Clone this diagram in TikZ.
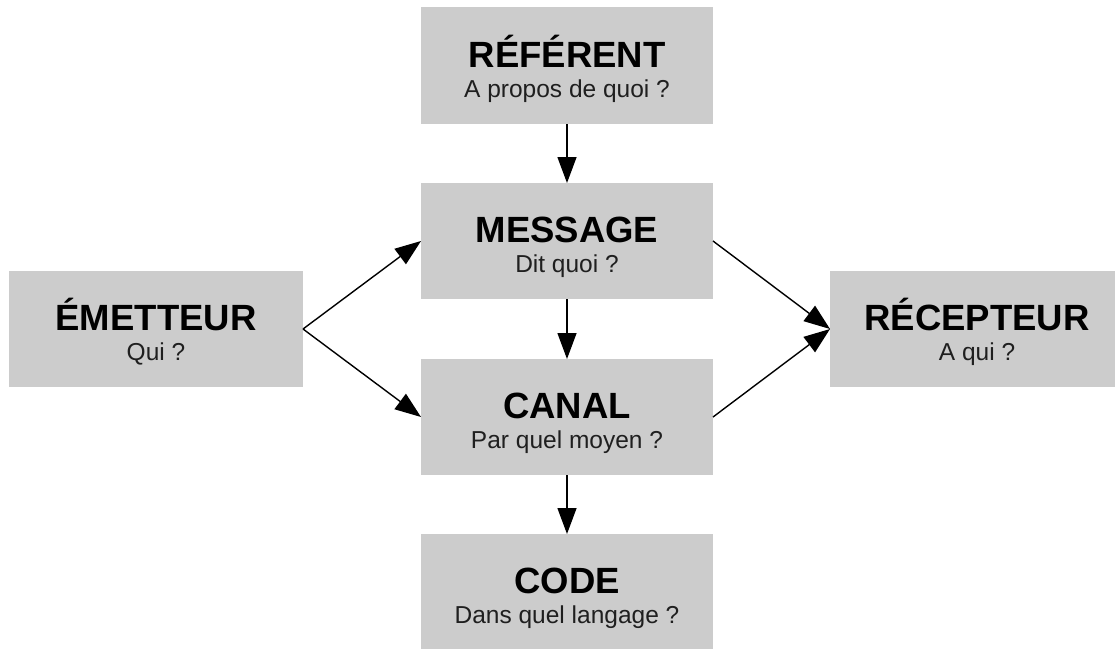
\documentclass[tikz,border=0pt]{standalone}
\usepackage{fontspec}
\setmainfont{Liberation Sans}
\usetikzlibrary{arrows.meta}
\definecolor{boxgray}{RGB}{204,204,204}
\begin{document}
\begin{tikzpicture}[x=1pt,y=-1pt,
  box/.style={fill=boxgray, draw=none, minimum width=293pt, minimum height=116pt, inner sep=0pt, outer sep=0pt},
  ttl/.style={anchor=base, inner sep=0pt, font=\fontsize{36.5}{40}\selectfont\bfseries},
  sub/.style={anchor=base, inner sep=0pt, font=\fontsize{24.5}{27}\selectfont, text=black!88},
  arr/.style={line width=1.4pt, -{Triangle[length=26pt,width=19pt]}}]
\clip (0,0) rectangle (1115,648);
\fill[white] (0,0) rectangle (1115,648);
% boxes
\node[box, minimum width=292pt, minimum height=117pt] (ref) at (567,65.5) {};
\node[box, minimum width=292pt] (msg) at (567,241) {};
\node[box, minimum width=292pt] (can) at (567,417) {};
\node[box, minimum width=292pt] (cod) at (567,592) {};
\node[box, minimum width=294pt] (emi) at (156,329) {};
\node[box, minimum width=294pt] (rec) at (977,329) {};
% texts
\node[ttl] (refT) at (567,67) {RÉFÉRENT};
\node[sub] (refS) at (567,97) {A propos de quoi ?};
\node[ttl] (msgT) at (567,242.5) {MESSAGE};
\node[sub] (msgS) at (567,272.5) {Dit quoi ?};
\node[ttl] (canT) at (567,418.5) {CANAL};
\node[sub] (canS) at (567,448.5) {Par quel moyen ?};
\node[ttl] (codT) at (567,593.5) {CODE};
\node[sub] (codS) at (567,623.5) {Dans quel langage ?};
\node[ttl] (emiT) at (156,330.5) {ÉMETTEUR};
\node[sub] (emiS) at (156,360.5) {Qui ?};
\node[ttl] (recT) at (977,330.5) {RÉCEPTEUR};
\node[sub] (recS) at (977,360.5) {A qui ?};
% arrows
\draw[arr] (ref.south) -- (msg.north);
\draw[arr] (msg.south) -- (can.north);
\draw[arr] (can.south) -- (cod.north);
\draw[arr] (emi.east) -- (msg.west);
\draw[arr] (emi.east) -- (can.west);
\draw[arr] (msg.east) -- (rec.west);
\draw[arr] (can.east) -- (rec.west);
\end{tikzpicture}
\end{document}
